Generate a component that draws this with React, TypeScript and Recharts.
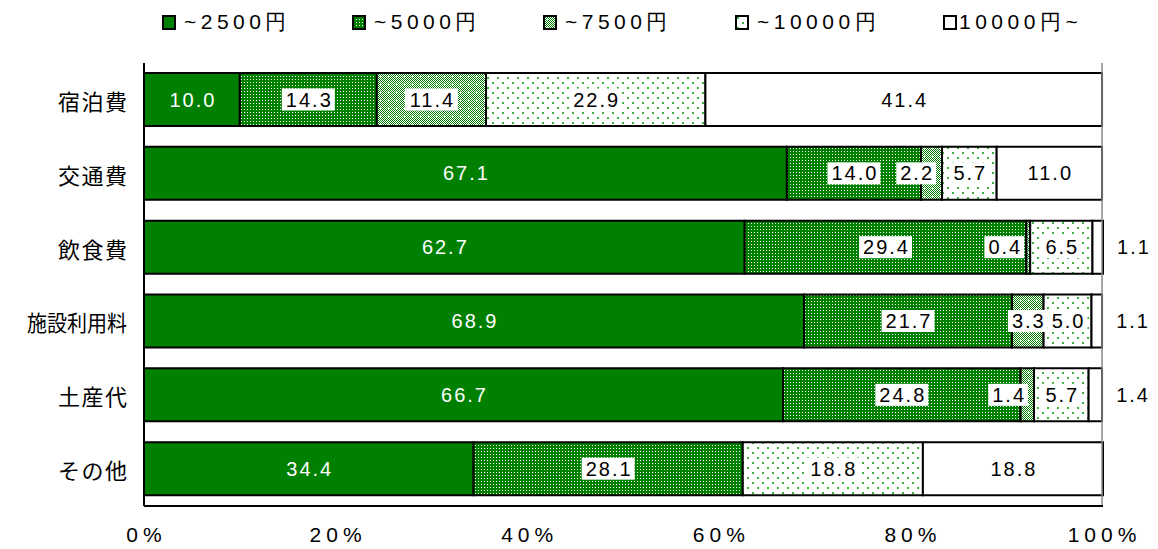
import { Bar, BarChart, LabelList, ReferenceLine, XAxis, YAxis } from 'recharts'

const categories = ['宿泊費', '交通費', '飲食費', '施設利用料', '土産代', 'その他']
const seriesNames = ['~2500円', '~5000円', '~7500円', '~10000円', '10000円~']
const s2500 = [10.0, 67.1, 62.7, 68.9, 66.7, 34.4]
const s5000 = [14.3, 14.0, 29.4, 21.7, 24.8, 28.1]
const s7500 = [11.4, 2.2, 0.4, 3.3, 1.4, 0]
const s10000 = [22.9, 5.7, 6.5, 5.0, 5.7, 18.8]
const sOver = [41.4, 11.0, 1.1, 1.1, 1.4, 18.8]
const xTicks = [0, 20, 40, 60, 80, 100]
const boundaryTicks = [1, 2, 3, 4, 5]

const data = categories.map((name, i) => ({
  name,
  a: s2500[i],
  b: s5000[i],
  c: s7500[i],
  d: s10000[i],
  e: sOver[i],
}))

const GREEN = '#008000'
const FILLS = [GREEN, 'url(#p5000)', 'url(#p7500)', 'url(#p10000)', '#ffffff']
const KEYS = ['a', 'b', 'c', 'd', 'e']
const NUM_FONT = '"Liberation Sans", Arial, sans-serif'
const JP_FONT = '"Noto Sans CJK JP", sans-serif'
const FS = 20
const LS = 2

const textWidth = (s: string) => {
  let w = 0
  for (const ch of s) w += ch === '.' ? 0.278 * FS : 0.556 * FS
  return w + LS * (s.length - 1)
}

const makeLabel = (kind: number) => (props: any) => {
  const { x, y, width, height, value } = props
  if (!value) return null
  const txt = Number(value).toFixed(1)
  const cy = Number(y) + Number(height) / 2
  let cx = Number(x) + Number(width) / 2
  const tw = textWidth(txt)
  const common = {
    y: cy,
    dominantBaseline: 'central' as const,
    textAnchor: 'middle' as const,
    fontFamily: NUM_FONT,
    fontSize: FS,
    style: { letterSpacing: LS },
  }
  if (kind === 0) {
    return <text {...common} x={cx + LS / 2} fill="#fff">{txt}</text>
  }
  if (kind === 4) {
    if (value < 2) cx = Number(x) + Number(width) + 30
    return <text {...common} x={cx + LS / 2} fill="#000">{txt}</text>
  }
  const bw = tw + 8
  if (value < 3) cx = Math.min(cx, Number(x) + Number(width) - bw / 2 - 6)
  return (
    <g>
      <rect x={cx - bw / 2} y={cy - 11} width={bw} height={22} fill="#fff" />
      <text {...common} x={cx + LS / 2} fill="#000">{txt}</text>
    </g>
  )
}

const CategoryTick = (props: any) => {
  const { y, payload } = props
  const label = String(payload.value)
  const long = label.length > 4
  return (
    <text
      x={long ? 27 : 128.5}
      y={y}
      dominantBaseline="central"
      textAnchor={long ? 'start' : 'end'}
      fontFamily={JP_FONT}
      fontSize={22}
      fill="#000"
      style={{ letterSpacing: long ? 0 : 1.5 }}
      {...(long ? { textLength: 100, lengthAdjust: 'spacingAndGlyphs' } : {})}
    >
      {label}
    </text>
  )
}

function Patterns() {
  return (
    <svg width={0} height={0} style={{ position: 'absolute' }}>
      <defs>
        <pattern id="p5000" width={3} height={3} patternUnits="userSpaceOnUse">
          <rect width={3} height={3} fill={GREEN} />
          <rect x={1} y={1} width={1} height={1} fill="#fff" />
        </pattern>
        <pattern id="p7500" width={8} height={8} patternUnits="userSpaceOnUse">
          <rect width={8} height={8} fill="#fff" />
          {[0, 2, 4, 6].map((r) =>
            [0, 2, 4, 6].map((c) => (
              <rect key={`${r}-${c}`} x={c} y={r} width={1} height={1} fill={GREEN} />
            ))
          )}
          {[1, 3, 5, 7].map((r) =>
            [1, 3, 5, 7].map((c) => (
              <rect key={`o${r}-${c}`} x={c} y={r} width={1} height={1} fill={GREEN} />
            ))
          )}
          <rect x={3} y={4} width={3} height={1} fill="#fff" />
          <rect x={4} y={3} width={1} height={3} fill="#fff" />
        </pattern>
        <pattern id="p10000" width={10} height={10} patternUnits="userSpaceOnUse">
          <rect width={10} height={10} fill="#fff" />
          <rect x={2} y={2} width={2} height={2} fill="#3fae3f" />
          <rect x={7} y={7} width={2} height={2} fill="#3fae3f" />
        </pattern>
      </defs>
    </svg>
  )
}

const legendX = [162, 352, 543, 735, 943]

export default function App() {
  return (
    <div style={{ position: 'absolute', left: 0, top: 0, width: 1158, height: 549, background: '#fff' }}>
      <Patterns />
      {seriesNames.map((s, i) => (
        <div
          key={s}
          style={{
            position: 'absolute',
            left: legendX[i],
            top: 9,
            display: 'flex',
            alignItems: 'center',
            whiteSpace: 'nowrap',
            fontFamily: NUM_FONT,
            fontSize: 21,
            lineHeight: '26px',
            letterSpacing: 4.5,
            color: '#000',
          }}
        >
          <svg width={14} height={15} style={{ marginRight: i === 4 ? 2 : 8, flexShrink: 0 }}>
            <rect x={1} y={1} width={12} height={13} fill={FILLS[i]} stroke="#000" strokeWidth={2} />
          </svg>
          <span>{s}</span>
        </div>
      ))}
      <div style={{ position: 'absolute', left: 0, top: 0 }}>
        <BarChart
          width={1158}
          height={549}
          data={data}
          layout="vertical"
          barSize={53}
          margin={{ top: 63, right: 55, bottom: 13, left: 0 }}
        >
          <YAxis
            yAxisId="t"
            type="number"
            domain={[0, 6]}
            ticks={boundaryTicks}
            width={0}
            mirror
            axisLine={false}
            tickSize={6}
            tickLine={{ stroke: '#000', strokeWidth: 1.5 }}
            tickFormatter={() => ''}
          />
          <XAxis
            type="number"
            domain={[0, 100]}
            ticks={xTicks}
            tickFormatter={(v) => `${v}%`}
            axisLine={{ stroke: '#000', strokeWidth: 2 }}
            tickLine={false}
            tickSize={0}
            tickMargin={21}
            height={30}
            tick={{ fill: '#000', fontSize: 21, fontFamily: NUM_FONT, style: { letterSpacing: 5 }, dx: 2.5 }}
          />
          <YAxis
            type="category"
            dataKey="name"
            width={144}
            axisLine={{ stroke: '#000', strokeWidth: 2 }}
            tickLine={false}
            tick={<CategoryTick />}
          />
          <ReferenceLine x={100} stroke="#888" strokeWidth={1.5} />
          <ReferenceLine yAxisId="t" y={6} stroke="#888" strokeWidth={1.5} />
          {KEYS.map((k, i) => (
            <Bar
              key={k}
              dataKey={k}
              stackId="s"
              fill={FILLS[i]}
              stroke="#000"
              strokeWidth={2}
              isAnimationActive={false}
            >
              <LabelList dataKey={k} content={makeLabel(i)} />
            </Bar>
          ))}
        </BarChart>
      </div>
    </div>
  )
}
